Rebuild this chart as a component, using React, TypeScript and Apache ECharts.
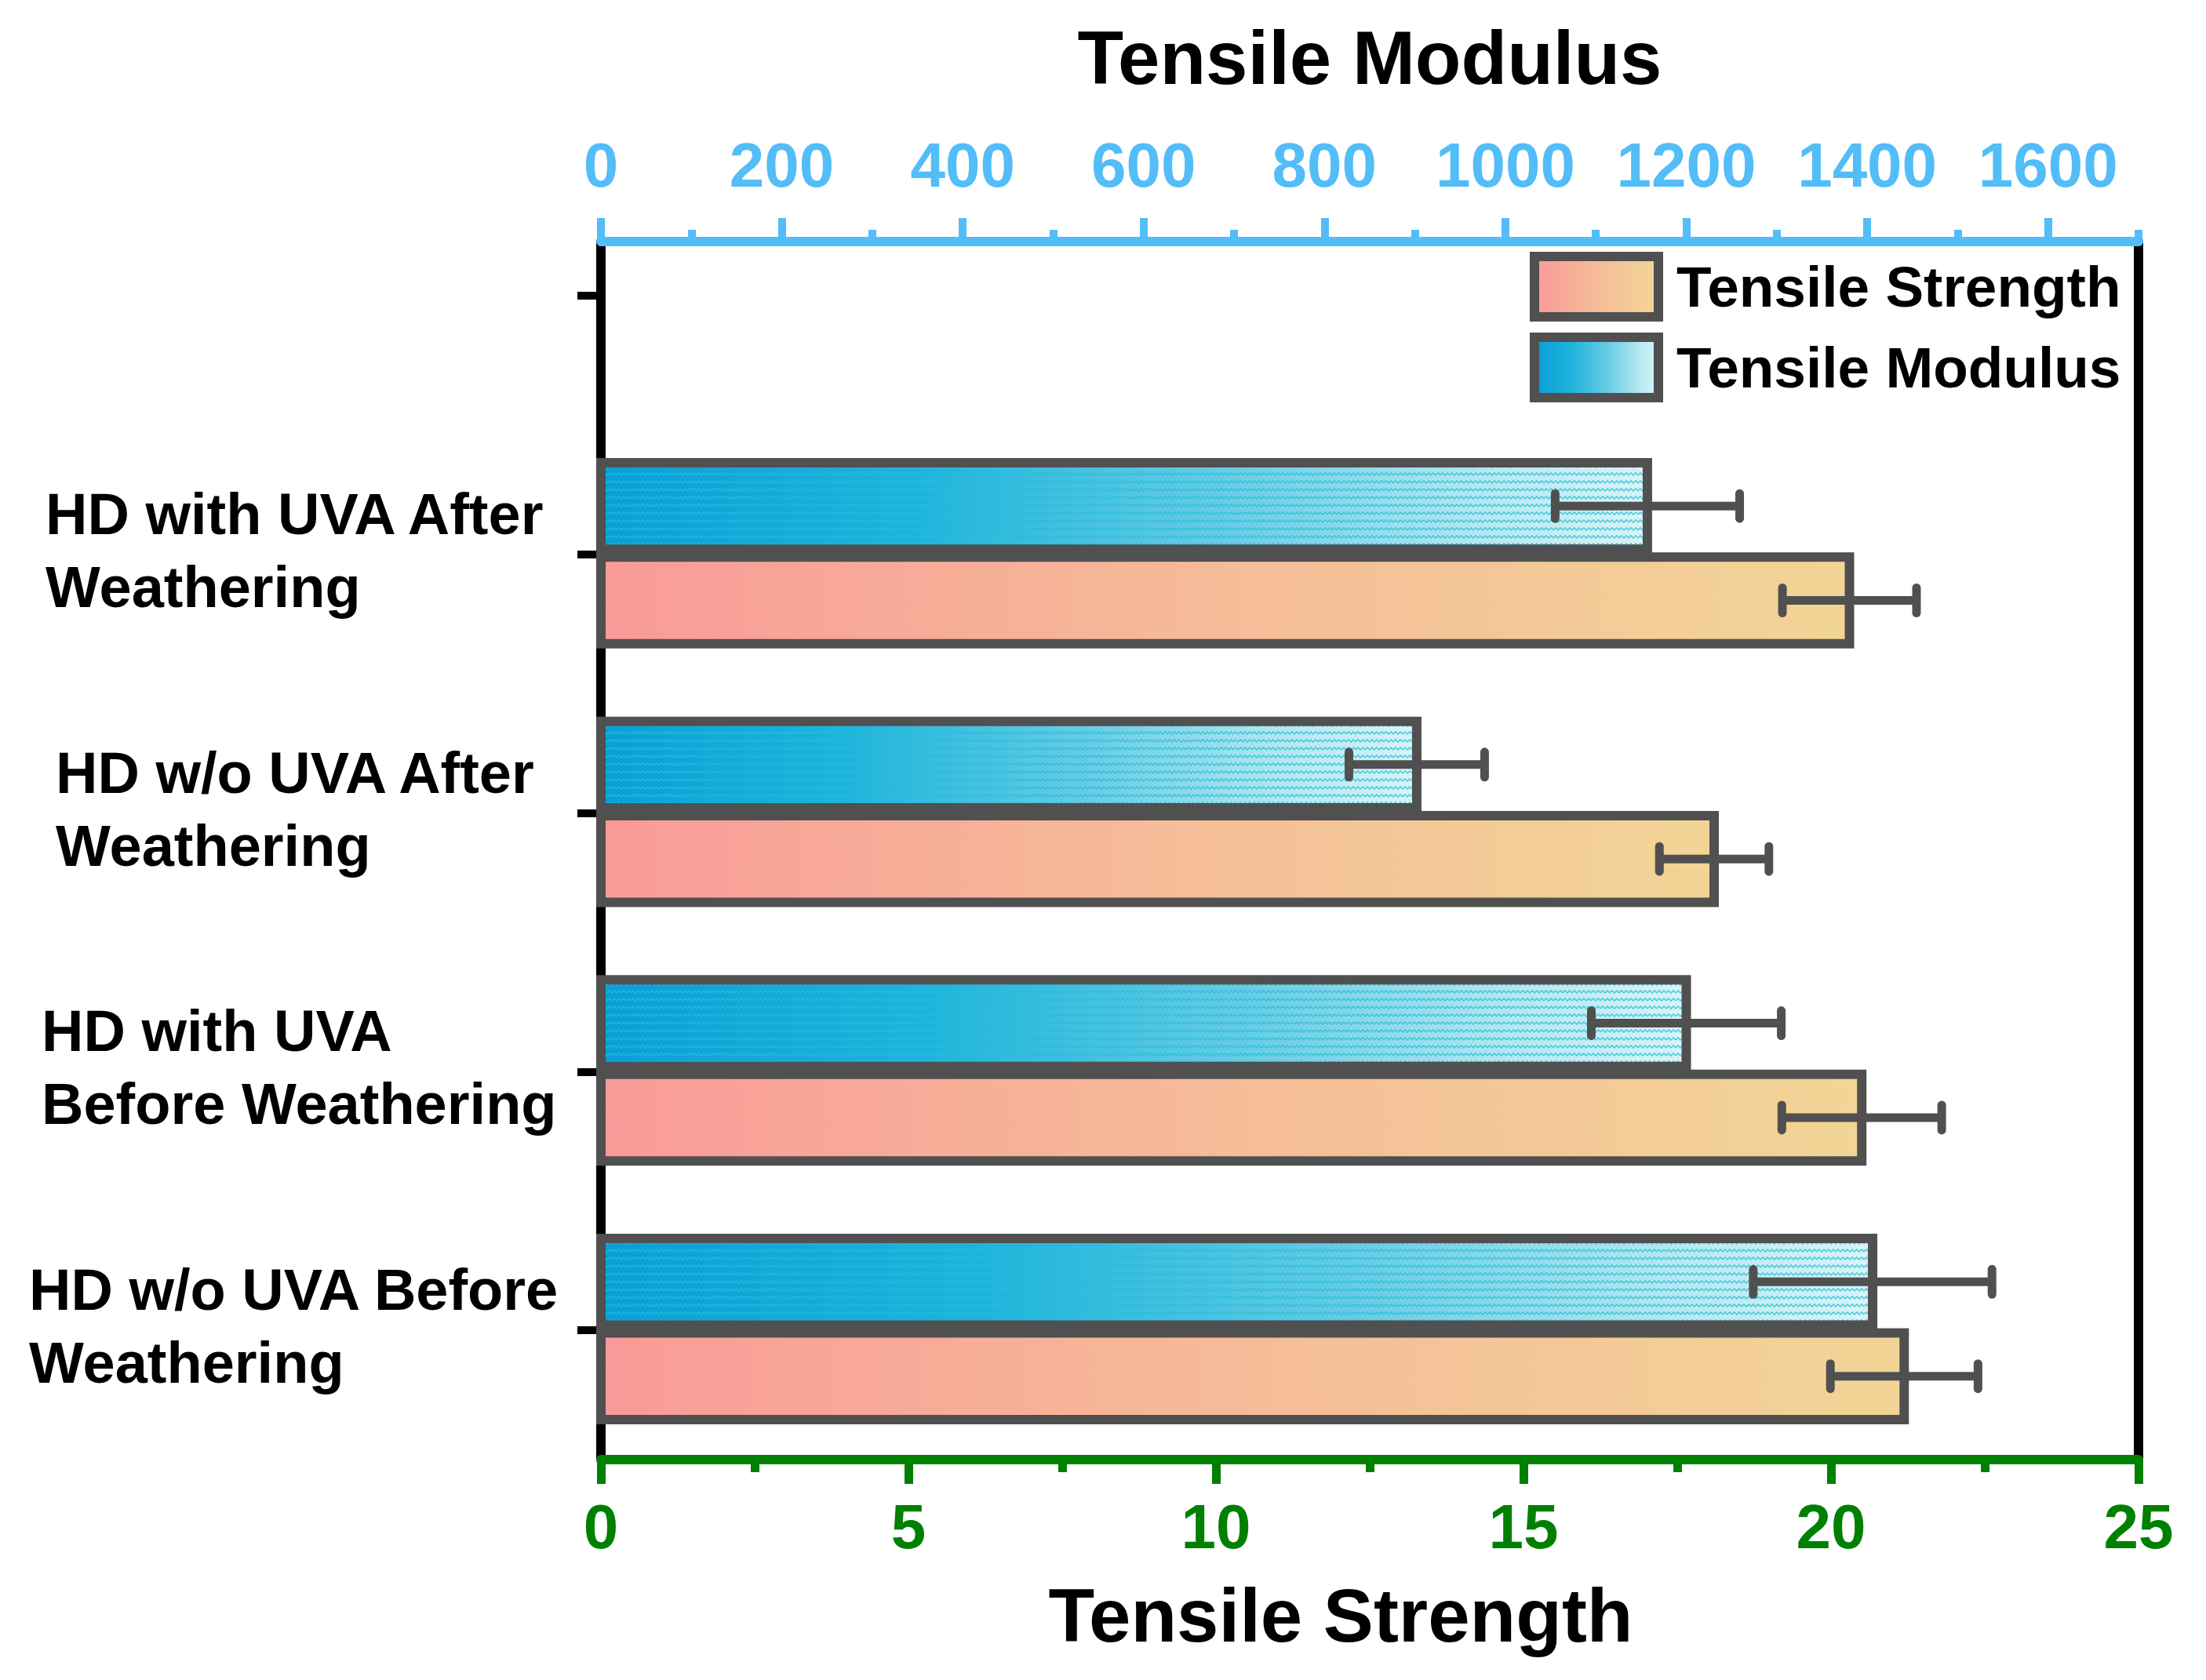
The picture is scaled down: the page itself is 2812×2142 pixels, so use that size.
import { useEffect, useRef } from 'react'
import * as echarts from 'echarts'

// categories from bottom to top, placed at y = 1..4 (y = 5 is an empty tick)
const categories = [
  'HD w/o UVA Before\nWeathering',
  'HD with UVA\nBefore Weathering',
  'HD w/o UVA After\nWeathering',
  'HD with UVA After\nWeathering',
]
const categoryPos = [1, 2, 3, 4]
const yTicks = [1, 2, 3, 4, 5]

const strength = [21.19, 20.5, 18.1, 20.3]
const strengthErr = [1.2, 1.3, 0.89, 1.09]
const modulus = [1406, 1200, 902, 1157]
const modulusErr = [132, 105, 75, 102]

const modulusTicks = [0, 200, 400, 600, 800, 1000, 1200, 1400, 1600]
const modulusMinorTicks = [100, 300, 500, 700, 900, 1100, 1300, 1500, 1700]

const FONT = '"Liberation Sans", Arial, Helvetica, sans-serif'
const OUTLINE = '#505050'
const BLUE = '#53BDF7'
const GREEN = '#008000'

// label left offsets (rich padding) per category
const labelPad = [0, 16, 34, 21]

function waveTile(): HTMLCanvasElement {
  const c = document.createElement('canvas')
  c.width = 12
  c.height = 10
  const ctx = c.getContext('2d')
  if (ctx) {
    ctx.strokeStyle = '#1FC2D4'
    ctx.lineWidth = 1.6
    ctx.beginPath()
    ctx.moveTo(0, 6)
    ctx.lineTo(3, 3)
    ctx.lineTo(6, 6)
    ctx.lineTo(9, 3)
    ctx.lineTo(12, 6)
    ctx.stroke()
  }
  return c
}

export default function App() {
  const chartRef = useRef<HTMLDivElement>(null)

  useEffect(() => {
    document.body.style.margin = '0'
    document.body.style.overflow = 'hidden'
    if (!chartRef.current) return
    const chart = echarts.init(chartRef.current, undefined, { renderer: 'svg' })

    const pinkGrad = () =>
      new echarts.graphic.LinearGradient(0, 0, 1, 0, [
        { offset: 0, color: '#F99A98' },
        { offset: 0.5, color: '#F5BC98' },
        { offset: 1, color: '#F2D596' },
      ])
    const blueGrad = () =>
      new echarts.graphic.LinearGradient(0, 0, 1, 0, [
        { offset: 0, color: '#0A9ED9' },
        { offset: 0.3, color: '#1FB3DD' },
        { offset: 0.6, color: '#6ACCE6' },
        { offset: 0.85, color: '#B8E8F1' },
        { offset: 1, color: '#DAF3F7' },
      ])
    const tile = waveTile()

    const makeRender = (band: [number, number], kind: 'pink' | 'blue') => (params: any, api: any) => {
      const v = api.value(0)
      const yc = api.value(1)
      const e = api.value(2)
      const pTop = api.coord([0, yc + band[1]])
      const pBot = api.coord([v, yc + band[0]])
      const x0 = pTop[0]
      const x1 = pBot[0]
      const y0 = pTop[1]
      const y1 = pBot[1]
      const ym = (y0 + y1) / 2
      const xl = api.coord([v - e, yc])[0]
      const xr = api.coord([v + e, yc])[0]
      const shape = { x: x0, y: y0, width: x1 - x0, height: y1 - y0 }
      const children: any[] = []
      if (kind === 'pink') {
        children.push({ type: 'rect', shape, style: { fill: pinkGrad() } })
      } else {
        children.push({ type: 'rect', shape, style: { fill: blueGrad() } })
        children.push({
          type: 'rect',
          shape,
          style: { fill: { image: tile, repeat: 'repeat' }, opacity: 0.75 },
        })
      }
      children.push({ type: 'rect', shape, style: { fill: 'none', stroke: OUTLINE, lineWidth: 12 } })
      children.push({
        type: 'line',
        shape: { x1: xl, y1: ym, x2: xr, y2: ym },
        style: { stroke: OUTLINE, lineWidth: 11 },
      })
      children.push({
        type: 'line',
        shape: { x1: xl, y1: ym - 16, x2: xl, y2: ym + 16 },
        style: { stroke: OUTLINE, lineWidth: 11, lineCap: 'round' },
      })
      children.push({
        type: 'line',
        shape: { x1: xr, y1: ym - 16, x2: xr, y2: ym + 16 },
        style: { stroke: OUTLINE, lineWidth: 11, lineCap: 'round' },
      })
      return { type: 'group', children }
    }

    const rich: Record<string, any> = {}
    labelPad.forEach((p, i) => {
      rich['a' + i] = {
        fontFamily: FONT,
        fontWeight: 'bold',
        fontSize: 74,
        lineHeight: 93,
        color: '#000',
        padding: [0, 0, 0, p],
      }
    })

    const option: echarts.EChartsOption = {
      animation: false,
      backgroundColor: '#fff',
      grid: { left: 766, right: 86, top: 308, bottom: 281, outerBoundsMode: 'none' } as any,
      legend: {
        orient: 'vertical',
        left: 1950,
        top: 321,
        padding: 0,
        itemGap: 14,
        itemWidth: 158,
        itemHeight: 77,
        selectedMode: false,
        textStyle: {
          fontFamily: FONT,
          fontWeight: 'bold',
          fontSize: 73,
          lineHeight: 78,
          color: '#000',
          padding: [0, 0, 0, 18],
        },
        data: [
          {
            name: 'Tensile Strength',
            icon: 'rect',
            itemStyle: { color: pinkGrad(), borderColor: OUTLINE, borderWidth: 12 },
          },
          {
            name: 'Tensile Modulus',
            icon: 'rect',
            itemStyle: { color: blueGrad(), borderColor: OUTLINE, borderWidth: 12 },
          },
        ],
      },
      xAxis: [
        {
          type: 'value',
          position: 'bottom',
          min: 0,
          max: 25,
          interval: 5,
          name: 'Tensile Strength',
          nameLocation: 'middle',
          nameGap: 150,
          nameTextStyle: {
            fontFamily: FONT,
            fontWeight: 'bold',
            fontSize: 96,
            color: '#000',
            padding: [0, 74, 0, 0],
          },
          axisLine: { show: true, onZero: false, lineStyle: { color: GREEN, width: 12 } },
          axisTick: { show: true, inside: false, length: 31, lineStyle: { color: GREEN, width: 11 } },
          minorTick: { show: true, splitNumber: 2, length: 16, lineStyle: { color: GREEN, width: 11 } },
          axisLabel: {
            margin: 45,
            fontFamily: FONT,
            fontWeight: 'bold',
            fontSize: 80,
            color: GREEN,
          },
          splitLine: { show: false },
        },
        {
          type: 'value',
          position: 'top',
          min: 0,
          max: 1700,
          interval: 200,
          name: 'Tensile Modulus',
          nameLocation: 'middle',
          nameGap: 187,
          nameTextStyle: {
            fontFamily: FONT,
            fontWeight: 'bold',
            fontSize: 96,
            color: '#000',
          },
          axisLine: { show: true, onZero: false, lineStyle: { color: BLUE, width: 12 } },
          axisTick: {
            show: true,
            inside: false,
            length: 30,
            customValues: modulusTicks,
            lineStyle: { color: BLUE, width: 10 },
          },
          axisLabel: {
            margin: 58,
            customValues: modulusTicks,
            formatter: (v: number) => String(v),
            fontFamily: FONT,
            fontWeight: 'bold',
            fontSize: 80,
            color: BLUE,
          },
          splitLine: { show: false },
        } as any,
        {
          type: 'value',
          position: 'top',
          min: 0,
          max: 1700,
          axisLine: { show: false, onZero: false },
          axisTick: {
            show: true,
            inside: false,
            length: 15,
            customValues: modulusMinorTicks,
            lineStyle: { color: BLUE, width: 10 },
          },
          axisLabel: { show: false },
          splitLine: { show: false },
        } as any,
      ],
      yAxis: [
        {
          type: 'value',
          position: 'left',
          min: 0.5,
          max: 5.21,
          axisLine: { show: true, onZero: false, lineStyle: { color: '#000', width: 12 } },
          axisTick: {
            show: true,
            inside: false,
            length: 30,
            customValues: yTicks,
            lineStyle: { color: '#000', width: 10 },
          },
          axisLabel: {
            customValues: categoryPos,
            align: 'left',
            margin: 729,
            padding: [0, 0, 10, 0],
            formatter: (val: number) => {
              const i = categoryPos.indexOf(val)
              return i < 0 ? '' : `{a${i}|${categories[i]}}`
            },
            rich,
          },
          splitLine: { show: false },
        } as any,
        {
          type: 'value',
          position: 'right',
          min: 0.5,
          max: 5.21,
          axisLine: { show: true, onZero: false, lineStyle: { color: '#000', width: 12 } },
          axisTick: { show: false },
          axisLabel: { show: false },
          splitLine: { show: false },
        },
      ],
      series: [
        {
          name: 'Tensile Modulus',
          type: 'custom',
          xAxisIndex: 1,
          yAxisIndex: 0,
          encode: { x: 0, y: 1 },
          itemStyle: { color: '#1FB3DD' },
          renderItem: makeRender([0.02, 0.355], 'blue') as any,
          data: modulus.map((v, i) => [v, categoryPos[i], modulusErr[i]]),
          z: 3,
        },
        {
          name: 'Tensile Strength',
          type: 'custom',
          xAxisIndex: 0,
          yAxisIndex: 0,
          encode: { x: 0, y: 1 },
          itemStyle: { color: '#F5BC98' },
          renderItem: makeRender([-0.345, -0.01], 'pink') as any,
          data: strength.map((v, i) => [v, categoryPos[i], strengthErr[i]]),
          z: 3,
        },
      ],
    }

    chart.setOption(option)

    return () => {
      chart.dispose()
    }
  }, [])

  return <div ref={chartRef} style={{ width: '2812px', height: '2142px' }} />
}
